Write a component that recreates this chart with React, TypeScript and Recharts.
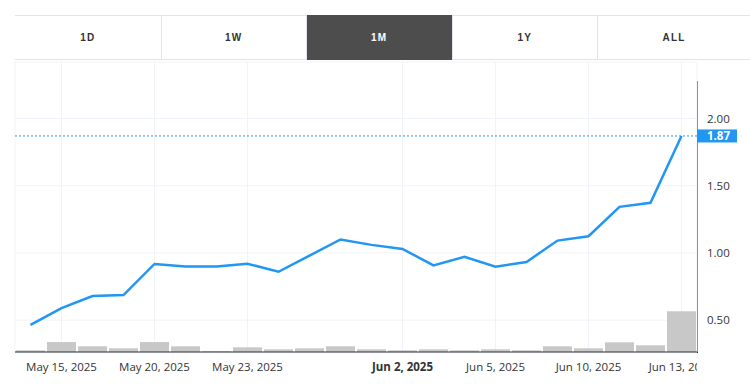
import React from 'react';
import { ComposedChart, Line, Bar, XAxis, YAxis, CartesianGrid, ReferenceLine } from 'recharts';

const dates = [
  'May 14, 2025', 'May 15, 2025', 'May 16, 2025', 'May 19, 2025', 'May 20, 2025', 'May 21, 2025',
  'May 22, 2025', 'May 23, 2025', 'May 27, 2025', 'May 28, 2025', 'May 29, 2025', 'May 30, 2025',
  'Jun 2, 2025', 'Jun 3, 2025', 'Jun 4, 2025', 'Jun 5, 2025', 'Jun 6, 2025', 'Jun 9, 2025',
  'Jun 10, 2025', 'Jun 11, 2025', 'Jun 12, 2025', 'Jun 13, 2025',
];
const prices = [
  0.465, 0.59, 0.68, 0.687, 0.918, 0.9, 0.9, 0.92, 0.86, 0.98, 1.1, 1.06,
  1.03, 0.907, 0.972, 0.898, 0.933, 1.092, 1.124, 1.343, 1.373, 1.87,
];
const volumes = [
  17, 100, 57, 37, 100, 57, 7, 47, 27, 37, 57, 27,
  17, 27, 17, 27, 17, 57, 37, 97, 67, 407,
];
const xTicks = ['May 15, 2025', 'May 20, 2025', 'May 23, 2025', 'Jun 2, 2025', 'Jun 5, 2025', 'Jun 10, 2025', 'Jun 13, 2025'];
const boldTicks = ['Jun 2, 2025'];
const priceTicks = [0.5, 1.0, 1.5, 2.0];
const ranges = ['1D', '1W', '1M', '1Y', 'ALL'];
const activeRange = '1M';
const lastPrice = 1.87;

const data = dates.map((d, i) => ({ date: d, price: prices[i], volume: volumes[i] }));

const AXIS_FONT = '"Open Sans", "DejaVu Sans", sans-serif';
const BLUE = '#2196f3';

const XTick = (props: any) => {
  const { x, y, payload } = props;
  const bold = boldTicks.includes(payload.value);
  return (
    <g>
      <defs>
        <clipPath id="xtickclip">
          <rect x={0} y={0} width={697} height={386} />
        </clipPath>
      </defs>
      <text
        x={x}
        y={y}
        dy="0.71em"
        textAnchor="middle"
        fill="#333"
        fontSize={11.5}
        fontFamily={AXIS_FONT}
        fontWeight={bold ? 700 : 400}
        clipPath="url(#xtickclip)"
      >
        {payload.value}
      </text>
    </g>
  );
};

const PriceTag = (props: any) => {
  const vb = props.viewBox || {};
  const x = (vb.x ?? 0) + (vb.width ?? 0);
  const y = vb.y ?? 0;
  return (
    <g>
      <rect x={x} y={y - 6.5} width={40} height={13} fill={BLUE} />
      <text
        x={x + 10}
        y={y}
        dy="0.36em"
        fill="#fff"
        fontSize={11.5}
        fontWeight={700}
        fontFamily={AXIS_FONT}
      >
        {lastPrice.toFixed(2)}
      </text>
    </g>
  );
};

export default function App() {
  const cellW = 145.5;
  return (
    <div style={{ position: 'absolute', left: 0, top: 0, width: 750, height: 386, background: '#fff', overflow: 'hidden' }}>
      <div
        style={{
          position: 'absolute',
          left: 15,
          top: 15,
          width: 735,
          height: 45,
          borderTop: '1px solid #e0e3eb',
          borderBottom: '1px solid #e0e3eb',
          boxSizing: 'border-box',
        }}
      />
      {ranges.map((r, i) => {
        const active = r === activeRange;
        const last = i === ranges.length - 1;
        return (
          <div
            key={r}
            style={{
              position: 'absolute',
              left: 15 + i * cellW,
              top: 15,
              width: last ? 750 - (15 + i * cellW) : cellW,
              height: 45,
              boxSizing: 'border-box',
              borderLeft: i > 0 ? '1px solid #e0e3eb' : 'none',
              background: active ? '#4d4d4d' : 'transparent',
              color: active ? '#fff' : '#333',
              display: 'flex',
              alignItems: 'center',
              justifyContent: 'center',
              fontFamily: '"Liberation Sans", Arial, sans-serif',
              fontWeight: 700,
              fontSize: 10,
              letterSpacing: 1.2,
            }}
          >
            {r}
          </div>
        );
      })}
      <div style={{ position: 'absolute', left: 697, top: 81, width: 1, height: 272, background: '#2a2e39' }} />
      <div style={{ position: 'absolute', left: 0, top: 0 }}>
        <ComposedChart
          width={750}
          height={386}
          data={data}
          margin={{ top: 62, right: 0, bottom: 4, left: 15 }}
          barCategoryGap={1}
        >
          <CartesianGrid yAxisId="price" stroke="#f0f3fa" strokeWidth={1} />
          <XAxis
            dataKey="date"
            ticks={xTicks}
            interval={0}
            height={30}
            tickSize={0}
            tickMargin={11}
            axisLine={{ stroke: '#2a2e39', strokeWidth: 1 }}
            tickLine={false}
            tick={<XTick />}
          />
          <YAxis
            yAxisId="price"
            orientation="right"
            width={53}
            domain={[0.2634, 2.42]}
            ticks={priceTicks}
            allowDataOverflow
            tickFormatter={(v: number) => v.toFixed(2)}
            tickSize={0}
            tickMargin={10}
            tickLine={false}
            axisLine={false}
            tick={{ fill: '#333', fontSize: 11.5, fontFamily: AXIS_FONT }}
          />
          <YAxis yAxisId="vol" hide domain={[0, 2900]} />
          <Bar yAxisId="vol" dataKey="volume" fill="#c8c8c8" isAnimationActive={false} />
          <ReferenceLine
            yAxisId="price"
            y={lastPrice}
            stroke={BLUE}
            strokeWidth={1}
            strokeDasharray="2 2"
            label={<PriceTag />}
          />
          <Line
            yAxisId="price"
            type="linear"
            dataKey="price"
            stroke={BLUE}
            strokeWidth={2.5}
            dot={false}
            activeDot={false}
            isAnimationActive={false}
          />
        </ComposedChart>
      </div>
    </div>
  );
}
